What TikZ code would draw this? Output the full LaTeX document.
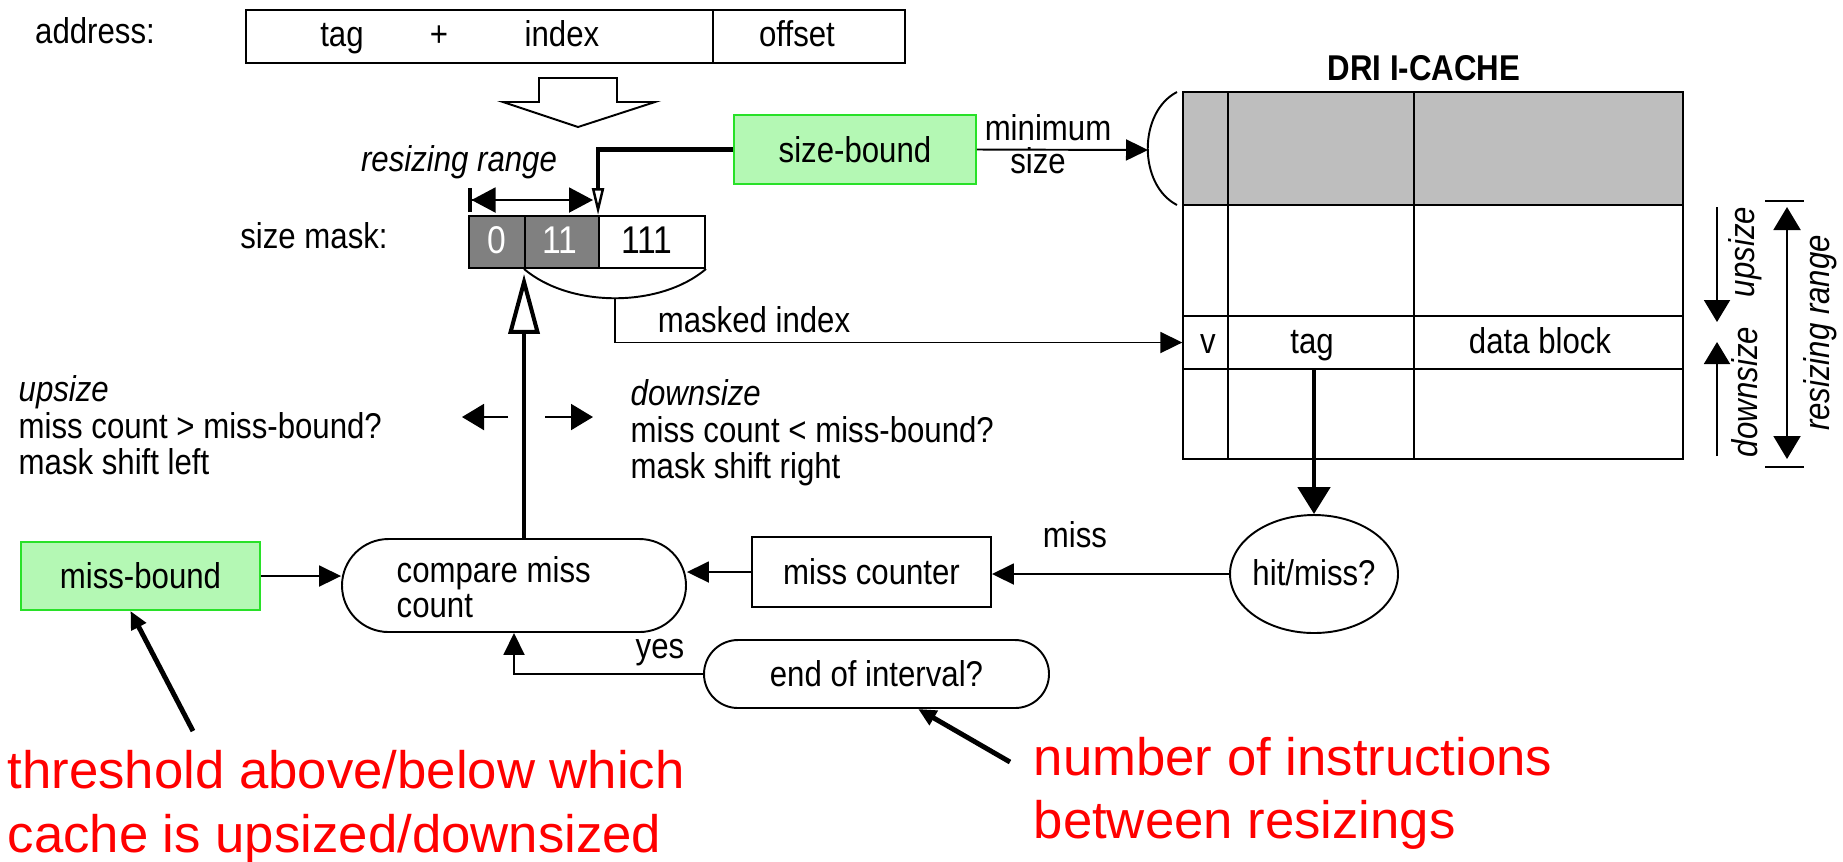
\documentclass[tikz,border=0pt]{standalone}
\usepackage{fontspec}
\setmainfont{Liberation Sans}
\newfontfamily\figfont{Liberation Sans}[FakeStretch=0.87]
\usetikzlibrary{arrows.meta,shapes.geometric,shapes.misc}
\definecolor{boundfill}{RGB}{180,248,180}
\definecolor{boundedge}{RGB}{40,225,40}
\definecolor{maskgray}{RGB}{128,128,128}
\definecolor{cachegray}{RGB}{190,190,190}
\definecolor{notered}{RGB}{255,0,0}
\begin{document}
\begin{tikzpicture}[x=0.1mm, y=-0.1mm,
  thinln/.style={line width=0.55pt},
  thickln/.style={line width=1.15pt},
  heavyln/.style={line width=1.4pt},
  figfontsize/.style={font=\figfont\fontsize{10.2}{12}\selectfont},
  txt/.style={inner sep=0pt, anchor=base, figfontsize},
  txtl/.style={txt, anchor=base west},
  itxt/.style={inner sep=0pt, anchor=base, font=\figfont\itshape\fontsize{10.2}{12}\selectfont},
  digit/.style={inner sep=0pt, anchor=base, font=\figfont\fontsize{11}{13}\selectfont},
  arr/.style={-{Triangle[length=2.2mm,width=2.1mm]}},
  sidearr/.style={-{Triangle[length=2.2mm,width=2.6mm]}},
  boundbox/.style={draw=boundedge, fill=boundfill, line width=0.55pt, inner sep=0pt, figfontsize},
  plainbox/.style={draw, thinln, inner sep=0pt, figfontsize},
  maskcell/.style={draw, thinln, inner sep=0pt, minimum height=5.2mm},
  cell/.style={inner sep=0pt, minimum height=5.3mm},
  redtext/.style={inner sep=0pt, anchor=base west, text=notered, font=\fontsize{15}{18}\selectfont},
]
\path[fill=white] (0,0) rectangle (1843,861);
\useasboundingbox (0,0) rectangle (1843,861);

% ---- address fields ----
\node[txt] (addrlabel) at (95,43) {address:};
\node[plainbox, minimum width=65.9mm, minimum height=5.3mm] (addr) at (575.5,36.5) {};
\draw[thinln] (713,10) -- (713,63);
\node[txt] (ftag) at (342,46) {tag};
\node[txt] (fplus) at (439,46) {+};
\node[txt] (findex) at (562,46) {index};
\node[txt] (foffset) at (797,46) {offset};

% wide hollow arrow from the address down to the mask
\draw[thinln, fill=white] (539,78) -- (617,78) -- (617,102) -- (655,102) -- (578,127) -- (503,102) -- (539,102) -- cycle;

% ---- size mask ----
\node[txt] (masklabel) at (314,248) {size mask:};
\node[maskcell, fill=maskgray, minimum width=5.6mm] (m0) at (497,242) {};
\node[maskcell, fill=maskgray, minimum width=7.4mm] (m11) at (562,242) {};
\node[maskcell, fill=white, minimum width=10.6mm] (m111) at (652,242) {};
\node[digit, text=white] (d0) at (497,253) {0};
\node[digit, text=white] (d11) at (560,253) {11};
\node[digit] (d111) at (647,253) {111};

\node[itxt] (rrlabel) at (459,171) {resizing range};
\coordinate (rrL) at (468,200);
\coordinate (rrR) at (593,200);
\draw[thinln, {Bar[width=2.4mm,line width=1pt]Triangle[length=2.4mm,width=2.5mm]}-{Triangle[length=2.4mm,width=2.5mm]}] (rrL) -- (rrR);

% bracket under the mask and the masked index
\draw[thinln] (m11.south west) .. controls (570,308) and (660,308) .. (m111.south east);
\coordinate (arcbot) at (615,298);

% ---- size-bound ----
\node[boundbox, minimum width=24.2mm, minimum height=6.9mm] (sizebound) at (855,149.5) {size-bound};
\draw[thickln, -{Triangle[open, line width=0.7pt, length=2.7mm, width=1.2mm]}] (sizebound.west) -| (m111.north west);
\coordinate (brk) at (1148,150);
\draw[thinln, arr] (sizebound.east) -- (brk);
\node[txt] (minlbl) at (1048,140) {minimum};
\node[txt] (sizelbl) at (1038,173) {size};

% ---- DRI I-cache ----
\node[inner sep=0pt, anchor=base, font=\figfont\bfseries\fontsize{10.2}{12}\selectfont] (cachetitle) at (1424,80) {DRI I-CACHE};
\fill[cachegray] (1183,92) rectangle (1683,205);
\draw[thinln] (1183,92) rectangle (1683,459);
\foreach \yy in {205,316,369} \draw[thinln] (1183,\yy) -- (1683,\yy);
\foreach \xx in {1228,1414} \draw[thinln] (\xx,92) -- (\xx,459);
\draw[thinln] (1177,92) .. controls (1138,112) and (1138,185) .. (1177,205);
\node[cell, minimum width=4.5mm] (vcell) at (1205.5,342.5) {};
\node[cell, minimum width=18.6mm] (tagcell) at (1321,342.5) {};
\node[cell, minimum width=26.9mm] (datacell) at (1548.5,342.5) {};
\node[txt] (vtxt) at (1208,353) {v};
\node[txt] (tagtxt) at (1312,353) {tag};
\node[txt] (datatxt) at (1540,353) {data block};

\draw[thinln, arr] (arcbot) |- (vcell.west);
\node[txt] (mitxt) at (754,332) {masked index};

% resizing directions beside the cache
\coordinate (upA) at (1717,207);
\coordinate (upB) at (1717,322);
\coordinate (dnA) at (1717,456);
\coordinate (dnB) at (1717,342);
\draw[thinln, sidearr] (upA) -- (upB);
\draw[thinln, sidearr] (dnA) -- (dnB);
\node[itxt, rotate=90, anchor=center] (uplbl) at (1745,252) {upsize};
\node[itxt, rotate=90, anchor=center] (dnlbl) at (1745,392) {downsize};
\draw[thinln] (1765,201) -- (1804,201);
\draw[thinln] (1765,467) -- (1804,467);
\coordinate (rngA) at (1787,207);
\coordinate (rngB) at (1787,459);
\draw[thinln, {Triangle[length=2.3mm,width=2.7mm]}-{Triangle[length=2.3mm,width=2.7mm]}] (rngA) -- (rngB);
\node[itxt, rotate=90, anchor=center] (rnglbl) at (1820,333) {resizing range};

% ---- upsize / downsize rules ----
\node[itxt, anchor=base west] (upt1) at (18,401) {upsize};
\node[txtl] (upt2) at (18,438) {miss count > miss-bound?};
\node[txtl] (upt3) at (18,474) {mask shift left};
\node[itxt, anchor=base west] (dnt1) at (630,405) {downsize};
\node[txtl] (dnt2) at (630,442) {miss count < miss-bound?};
\node[txtl] (dnt3) at (630,478) {mask shift right};
\coordinate (shlA) at (508,417);
\coordinate (shlB) at (462,417);
\coordinate (shrA) at (545,417);
\coordinate (shrB) at (593,417);
\draw[thinln, sidearr] (shlA) -- (shlB);
\draw[thinln, sidearr] (shrA) -- (shrB);

% ---- control loop ----
\node[rounded rectangle, draw, thinln, minimum width=34.4mm, minimum height=9.3mm, inner sep=0pt] (compare) at (514,585.5) {};
\node[txtl] (cmp1) at (396,582) {compare miss};
\node[txtl] (cmp2) at (396,617) {count};
\node[boundbox, minimum width=23.9mm, minimum height=6.8mm] (missbound) at (140.5,576) {miss-bound};
\node[plainbox, minimum width=23.9mm, minimum height=7mm] (misscounter) at (871.5,572) {miss counter};
\node[ellipse, draw, thinln, minimum width=16.8mm, minimum height=11.8mm, inner sep=0pt] (hitmiss) at (1314,574) {};
\node[txt] (hmtxt) at (1314,585) {hit/miss?};
\node[rounded rectangle, draw, thinln, minimum width=34.5mm, minimum height=6.8mm, inner sep=0pt, figfontsize] (endint) at (876.5,674) {end of interval?};

\draw[thinln, arr] (missbound.east) -- (missbound.east -| compare.west);
\draw[thinln, arr] (misscounter.west) -- (misscounter.west -| compare.east);
\draw[thinln, arr] (hitmiss.west) -- (hitmiss.west -| misscounter.east);
\node[txt] (misslbl) at (1075,547) {miss};
\draw[heavyln, -{Triangle[length=2.7mm,width=3.2mm]}] (hitmiss.north |- tagcell.south) -- (hitmiss.north);
\draw[thinln, arr] (endint.west) -| (compare.south);
\node[txt] (yeslbl) at (660,658) {yes};
\draw[thickln, shorten >=0.5mm, -{Triangle[open, length=6mm, width=3.1mm]}] (m11.south west |- compare.north) -- (m11.south west);

% ---- notes ----
\node[redtext] (noteA1) at (7,788) {threshold above/below which};
\node[redtext] (noteA2) at (7,852) {cache is upsized/downsized};
\node[redtext] (noteB1) at (1033,775) {number of instructions};
\node[redtext] (noteB2) at (1033,838) {between resizings};
\coordinate (noteAtail) at (193,731);
\coordinate (noteBtail) at (1010,762);
\draw[heavyln, -{Triangle[length=1.8mm,width=1.6mm]}] (noteAtail) -- (missbound.-106);
\draw[heavyln, -{Triangle[length=1.8mm,width=1.6mm]}] (noteBtail) -- (endint.-40);
\end{tikzpicture}
\end{document}
